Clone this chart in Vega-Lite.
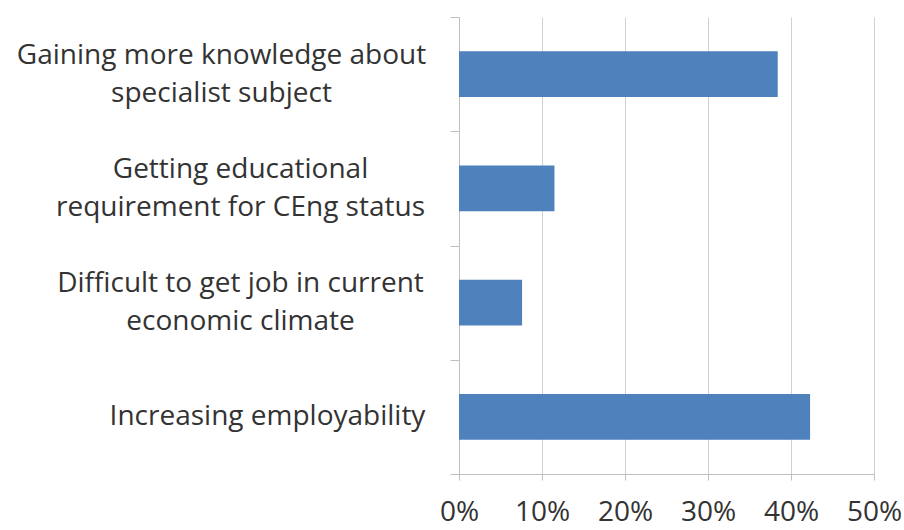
{
  "$schema": "https://vega.github.io/schema/vega-lite/v6.json",
  "width": 415,
  "height": 457,
  "autosize": {"type": "none"},
  "padding": {"left": 459, "top": 17, "right": 30, "bottom": 56},
  "background": "white",
  "data": {
    "values": [
      {"reason": "Gaining more knowledge about specialist subject", "share": 0.384},
      {"reason": "Getting educational requirement for CEng status", "share": 0.115},
      {"reason": "Difficult to get job in current economic climate", "share": 0.076},
      {"reason": "Increasing employability", "share": 0.423}
    ]
  },
  "mark": {"type": "bar", "color": "#4F81BD", "height": {"band": 0.4}},
  "encoding": {
    "y": {
      "field": "reason",
      "type": "nominal",
      "sort": null,
      "scale": {"paddingInner": 0, "paddingOuter": 0},
      "axis": {
        "title": null,
        "grid": false,
        "tickBand": "extent",
        "tickSize": 9,
        "tickColor": "#bfbfbf",
        "domainColor": "#bfbfbf",
        "labelFont": "Open Sans",
        "labelFontSize": 28,
        "labelColor": "#333333",
        "labelLineHeight": 38,
        "labelAlign": "center",
        "labelPadding": {
          "condition": [
            {"test": "datum.value == 'Gaining more knowledge about specialist subject'", "value": 229},
            {"test": "datum.value == 'Increasing employability'", "value": 183}
          ],
          "value": 210
        },
        "labelOffset": {
          "condition": {"test": "datum.value == 'Increasing employability'", "value": 0},
          "value": -19
        },
        "labelLimit": 0,
        "labelExpr": "datum.value == 'Gaining more knowledge about specialist subject' ? ['Gaining more knowledge about', 'specialist subject'] : datum.value == 'Getting educational requirement for CEng status' ? ['Getting educational', 'requirement for CEng status'] : datum.value == 'Difficult to get job in current economic climate' ? ['Difficult to get job in current', 'economic climate'] : datum.value"
      }
    },
    "x": {
      "field": "share",
      "type": "quantitative",
      "scale": {"domain": [0, 0.5]},
      "axis": {
        "title": null,
        "values": [0, 0.1, 0.2, 0.3, 0.4, 0.5],
        "format": ".0%",
        "grid": true,
        "gridColor": "#d0d0d0",
        "domainColor": "#bfbfbf",
        "tickColor": "#bfbfbf",
        "tickSize": 6,
        "labelFont": "Open Sans",
        "labelFontSize": 28,
        "labelColor": "#333333",
        "labelPadding": 18,
        "labelFlush": false,
        "labelOverlap": false
      }
    }
  },
  "config": {"view": {"stroke": null}}
}
